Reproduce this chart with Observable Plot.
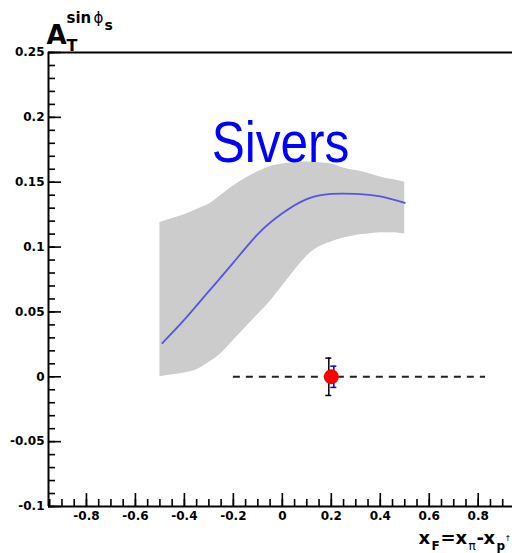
<!DOCTYPE html>
<html>
<head>
<meta charset="utf-8">
<script src="https://cdn.jsdelivr.net/npm/d3@7"></script>
<script src="https://cdn.jsdelivr.net/npm/@observablehq/plot@0.6"></script>
<style>
  html, body { margin: 0; padding: 0; background: #fff; overflow: hidden; }
</style>
</head>
<body>
<div id="chart"></div>
<script>
// Sivers asymmetry A_T^{sin phi_s} versus x_F: model band, central curve and one measured point.

// Uncertainty band of the model
const bandX     = [-0.5, -0.45, -0.4, -0.35, -0.3, -0.25, -0.2, -0.15, -0.1, -0.05, 0, 0.05, 0.1, 0.15, 0.2, 0.25, 0.3, 0.35, 0.4, 0.45, 0.5];
const bandUpper = [0.119, 0.122, 0.125, 0.129, 0.133, 0.140, 0.147, 0.153, 0.158, 0.162, 0.164, 0.165, 0.1655, 0.165, 0.164, 0.161, 0.159, 0.157, 0.154, 0.152, 0.150];
const bandLower = [0.0, 0.0015, 0.003, 0.0055, 0.011, 0.018, 0.028, 0.038, 0.048, 0.058, 0.070, 0.082, 0.093, 0.100, 0.104, 0.107, 0.109, 0.110, 0.111, 0.111, 0.110];

// Central model curve
const curveX = [-0.49, -0.4, -0.3, -0.2, -0.1, 0.0, 0.1, 0.2, 0.3, 0.4, 0.5];
const curveY = [0.026, 0.044, 0.066, 0.088, 0.110, 0.126, 0.137, 0.141, 0.141, 0.139, 0.134];

// Measured point with statistical and systematic errors
const pointX   = [0.2];
const pointY   = [0.0];
const statErr  = [0.0144];
const sysErr   = [0.0082];

// Zero reference line span
const zeroLineX = [-0.2, 0.83];
const zeroLineY = 0;

// Axes
const xDomain = [-0.955, 0.94];
const yDomain = [-0.1, 0.25];
const xMajor  = [-0.8, -0.6, -0.4, -0.2, 0, 0.2, 0.4, 0.6, 0.8];
const xLabels = ["-0.8", "-0.6", "-0.4", "-0.2", "0", "0.2", "0.4", "0.6", "0.8"];
const yMajor  = [-0.1, -0.05, 0, 0.05, 0.1, 0.15, 0.2, 0.25];
const yLabels = ["-0.1", "-0.05", "0", "0.05", "0.1", "0.15", "0.2", "0.25"];
const xMinor  = d3.range(-19, 19).map(i => i * 0.05);
const yMinor  = d3.range(-10, 26).map(i => i * 0.01);

const band  = bandX.map((x, i) => ({x, lo: bandLower[i], hi: bandUpper[i]}));
const curve = curveX.map((x, i) => ({x, y: curveY[i]}));
const points = pointX.map((x, i) => ({x, y: pointY[i], stat: statErr[i], sys: sysErr[i]}));
const xLabelOf = new Map(xMajor.map((v, i) => [v, xLabels[i]]));
const yLabelOf = new Map(yMajor.map((v, i) => [v, yLabels[i]]));

const FONT = "DejaVu Sans";

// Small helper for free-standing text placed relative to a frame anchor
function word(str, frameAnchor, dx, dy, fontSize, fontWeight = "bold", extra = {}) {
  return Plot.text([str], {
    text: d => d, frameAnchor, dx, dy, fontSize, fontWeight,
    fontFamily: FONT, textAnchor: "start", lineAnchor: "bottom", fill: "black", ...extra
  });
}

// Error bar (vertical rule plus two caps) for an error field
function errorBar(field, color, dx) {
  return [
    Plot.ruleX(points, {x: "x", y1: d => d.y - d[field], y2: d => d.y + d[field], stroke: color, strokeWidth: 1.5, dx}),
    Plot.ruleY(points, {y: d => d.y + d[field], x1: "x", x2: "x", insetLeft: -3, insetRight: -3, stroke: color, strokeWidth: 1.5, dx}),
    Plot.ruleY(points, {y: d => d.y - d[field], x1: "x", x2: "x", insetLeft: -3, insetRight: -3, stroke: color, strokeWidth: 1.5, dx})
  ];
}

const chart = Plot.plot({
  width: 512,
  height: 553,
  marginLeft: 48,
  marginRight: 0,
  marginTop: 52,
  marginBottom: 47,
  style: {fontFamily: FONT, background: "white"},
  x: {domain: xDomain},
  y: {domain: yDomain},
  marks: [
    Plot.areaY(band, {x: "x", y1: "lo", y2: "hi", fill: "#cccccc", curve: "monotone-x"}),
    Plot.line(curve, {x: "x", y: "y", stroke: "#5555e0", strokeWidth: 1.8, curve: "natural"}),
    Plot.ruleY([zeroLineY], {x1: zeroLineX[0], x2: zeroLineX[1], stroke: "#222", strokeWidth: 2, strokeDasharray: "7,6"}),
    ...errorBar("stat", "black", -2.5),
    ...errorBar("sys", "blue", 2.5),
    Plot.dot(points, {x: "x", y: "y", r: 7.5, fill: "#ff0000", stroke: "none"}),

    // frame lines: left, bottom, top
    Plot.ruleX([xDomain[0]], {stroke: "black", strokeWidth: 2}),
    Plot.ruleY([yDomain[0], yDomain[1]], {stroke: "black", strokeWidth: 2}),

    // inward ticks
    Plot.axisX(xMinor, {anchor: "bottom", tickSize: -7, strokeWidth: 1.6, text: null, label: null}),
    Plot.axisX(xMajor, {anchor: "bottom", tickSize: -13, strokeWidth: 1.6, text: null, label: null}),
    Plot.axisY(yMinor, {anchor: "left", tickSize: -7, strokeWidth: 1.6, text: null, label: null}),
    Plot.axisY(yMajor, {anchor: "left", tickSize: -13, strokeWidth: 1.6, text: null, label: null}),

    // tick labels
    Plot.axisX(xMajor, {anchor: "bottom", tickSize: 0, tickPadding: 5, tickFormat: d => xLabelOf.get(d),
      fontSize: 12, fontWeight: "bold", fill: "black", label: null}),
    Plot.axisY(yMajor, {anchor: "left", tickSize: 0, tickPadding: 4, tickFormat: d => yLabelOf.get(d),
      fontSize: 12, fontWeight: "bold", fill: "black", label: null}),

    // y title: A_T^{sin phi_s}
    word("A", "top-left", -2, -9, 26),
    word("T", "top-left", 18, -2, 16),
    word("sin", "top-left", 18, -30, 15),
    word("\u03D5", "top-left", 45, -30, 15, "normal"),
    word("s", "top-left", 56, -23, 14),

    // x title: x_F = x_pi - x_p(up)
    word("x", "bottom-right", -94, 37, 18),
    word("F", "bottom-right", -81, 43, 12),
    word("=", "bottom-right", -72, 37, 18),
    word("x", "bottom-right", -57, 37, 18),
    word("\u03C0", "bottom-right", -44, 43, 12, "normal"),
    word("-", "bottom-right", -36, 37, 18),
    word("x", "bottom-right", -29, 37, 18),
    word("p", "bottom-right", -16, 43, 12),
    word("\u2191", "bottom-right", -8, 34, 8, "normal"),

    // model label
    Plot.text(["Sivers"], {text: d => d, frameAnchor: "top", dy: 109, textAnchor: "middle", lineAnchor: "bottom",
      fontSize: 57, fontFamily: "Liberation Sans, sans-serif", fill: "#0000ff", className: "model-label"})
  ]
});

// narrow the model label horizontally
d3.select(chart).selectAll("g.model-label text").each(function () {
  const t = this.getAttribute("transform") || "";
  this.setAttribute("transform", t + " scale(0.87,1)");
});

document.getElementById("chart").appendChild(chart);
</script>
</body>
</html>
